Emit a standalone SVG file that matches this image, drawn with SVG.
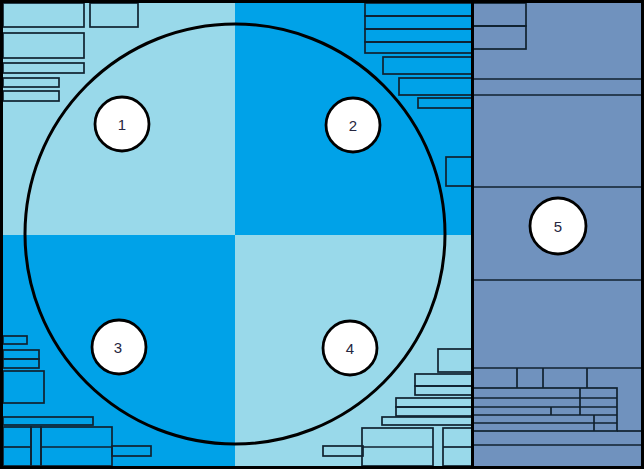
<svg xmlns="http://www.w3.org/2000/svg" width="644" height="469" viewBox="0 0 644 469">
<style>
.lt{fill:#99D9EA}
.dk{fill:#00A2E8}
.gr{fill:#7092BE}
.b{fill:none;stroke:#10212f;stroke-width:1.7}
.c{fill:#fff;stroke:#000;stroke-width:2.8}
.t{font-family:"Liberation Sans",Arial,sans-serif;font-size:15px;fill:#262640;text-anchor:middle}
</style>
<g id="background">
<rect class="lt" x="0" y="0" width="235" height="235"/>
<rect class="dk" x="235" y="0" width="238" height="235"/>
<rect class="dk" x="0" y="235" width="235" height="234"/>
<rect class="lt" x="235" y="235" width="238" height="234"/>
<rect class="gr" x="473" y="0" width="171" height="469"/>
</g>
<g id="boxes">
<rect class="b" x="3" y="3" width="81" height="24"/>
<rect class="b" x="90" y="3" width="48" height="24"/>
<rect class="b" x="3" y="33" width="81" height="25"/>
<rect class="b" x="3" y="63" width="81" height="10"/>
<rect class="b" x="3" y="78" width="56" height="9"/>
<rect class="b" x="3" y="91" width="56" height="10"/>
<rect class="b" x="365" y="3" width="107" height="13"/>
<rect class="b" x="365" y="16" width="107" height="13"/>
<rect class="b" x="365" y="29" width="107" height="13"/>
<rect class="b" x="365" y="42" width="107" height="11"/>
<rect class="b" x="383" y="57" width="89" height="17"/>
<rect class="b" x="399" y="78" width="73" height="17"/>
<rect class="b" x="418" y="98" width="54" height="10"/>
<rect class="b" x="446" y="157" width="26" height="29"/>
<rect class="b" x="3" y="336" width="24" height="8"/>
<rect class="b" x="3" y="350" width="36" height="9"/>
<rect class="b" x="3" y="359" width="36" height="9"/>
<rect class="b" x="3" y="371" width="41" height="32"/>
<rect class="b" x="3" y="417" width="90" height="8"/>
<rect class="b" x="3" y="427" width="28" height="39"/>
<line class="b" x1="3" y1="447" x2="31" y2="447"/>
<rect class="b" x="31" y="427" width="10" height="39"/>
<rect class="b" x="41" y="427" width="71" height="39"/>
<line class="b" x1="41" y1="447" x2="112" y2="447"/>
<rect class="b" x="112" y="446" width="39" height="10"/>
<rect class="b" x="438" y="349" width="34" height="23"/>
<rect class="b" x="415" y="374" width="57" height="12"/>
<rect class="b" x="415" y="386" width="57" height="9"/>
<rect class="b" x="396" y="398" width="76" height="9"/>
<rect class="b" x="396" y="407" width="76" height="9"/>
<rect class="b" x="382" y="417" width="90" height="8"/>
<rect class="b" x="323" y="446" width="40" height="10"/>
<rect class="b" x="362" y="428" width="71" height="38"/>
<line class="b" x1="362" y1="447" x2="433" y2="447"/>
<rect class="b" x="443" y="428" width="29" height="38"/>
<line class="b" x1="443" y1="447" x2="472" y2="447"/>
<rect class="b" x="473" y="3" width="53" height="23"/>
<rect class="b" x="473" y="26" width="53" height="23"/>
<line class="b" x1="473" y1="79" x2="642" y2="79"/>
<line class="b" x1="473" y1="95" x2="642" y2="95"/>
<line class="b" x1="473" y1="187" x2="642" y2="187"/>
<line class="b" x1="473" y1="280" x2="642" y2="280"/>
<line class="b" x1="473" y1="368" x2="642" y2="368"/>
<line class="b" x1="517" y1="368" x2="517" y2="388"/>
<line class="b" x1="543" y1="368" x2="543" y2="388"/>
<line class="b" x1="587" y1="368" x2="587" y2="388"/>
<rect class="b" x="473" y="388" width="144" height="43"/>
<line class="b" x1="473" y1="398" x2="617" y2="398"/>
<line class="b" x1="473" y1="407" x2="617" y2="407"/>
<line class="b" x1="473" y1="415" x2="617" y2="415"/>
<line class="b" x1="473" y1="423" x2="617" y2="423"/>
<line class="b" x1="580" y1="388" x2="580" y2="415"/>
<line class="b" x1="551" y1="407" x2="551" y2="415"/>
<line class="b" x1="594" y1="415" x2="594" y2="431"/>
<line class="b" x1="617" y1="431" x2="642" y2="431"/>
<line class="b" x1="473" y1="445" x2="642" y2="445"/>
</g>
<g id="frame">
<rect x="1.5" y="1.5" width="641" height="466" fill="none" stroke="#000" stroke-width="3"/>
<line x1="472.5" y1="0" x2="472.5" y2="469" stroke="#000" stroke-width="3"/>
</g>
<g id="connectors">
<circle cx="235" cy="234" r="210" fill="none" stroke="#000" stroke-width="3"/>
</g>
<g id="node1"><circle class="c" cx="122" cy="124" r="27"/><text class="t" x="122" y="130">1</text></g>
<g id="node2"><circle class="c" cx="353" cy="125" r="27"/><text class="t" x="353" y="131">2</text></g>
<g id="node3"><circle class="c" cx="119" cy="347" r="27"/><text class="t" x="118" y="353">3</text></g>
<g id="node4"><circle class="c" cx="350" cy="348" r="27"/><text class="t" x="350" y="354">4</text></g>
<g id="node5"><circle class="c" cx="558" cy="226" r="28"/><text class="t" x="558" y="232">5</text></g>
</svg>
